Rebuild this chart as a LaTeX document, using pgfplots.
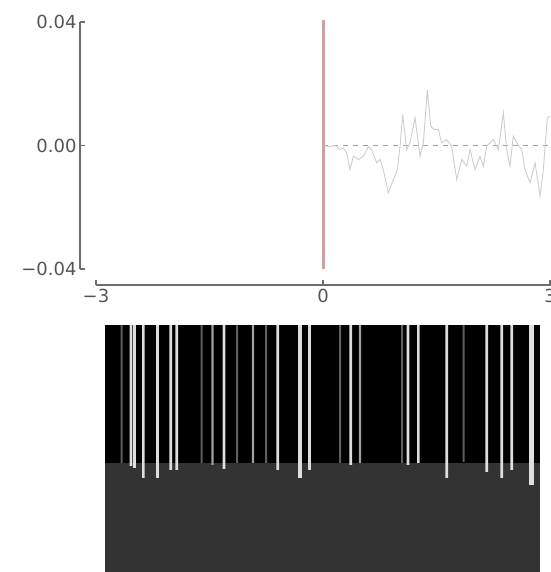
\documentclass[border=0pt]{standalone}
\usepackage{fontspec}
\setmainfont{DejaVu Sans}
\usepackage{pgfplots}
\pgfplotsset{compat=1.18}
\definecolor{spine}{RGB}{110,110,110}
\definecolor{ticktext}{RGB}{85,85,85}
\definecolor{redline}{RGB}{208,158,163}
\definecolor{noise}{RGB}{205,205,205}
\definecolor{dashc}{RGB}{160,160,160}
\definecolor{panelgray}{RGB}{51,51,51}
\definecolor{barbright}{RGB}{222,222,222}
\definecolor{barmid}{RGB}{160,160,160}
\definecolor{bardim}{RGB}{95,95,95}
\begin{document}
\begin{tikzpicture}
\path[use as bounding box] (0pt,0pt) rectangle (550pt,572pt);
\begin{axis}[
  overlay,
  at={(80pt,286.5pt)}, anchor=south west,
  scale only axis, width=470pt, height=263.5pt,
  xmin=-3.2115, xmax=3, ymin=-0.04534, ymax=0.04,
  axis x line*=bottom, axis y line*=left,
  axis line style={draw=none},
  scaled y ticks=false, scaled x ticks=false,
  tick align=inside, major tick length=5pt,
  tick style={spine, line width=1.4pt},
  xtick={-3,0,3}, xticklabels={−3,0,3},
  ytick={-0.04,0,0.04}, yticklabels={−0.04,0.00,0.04},
  ticklabel style={font=\fontsize{18}{20}\selectfont, text=ticktext},
  clip=false,
]
\draw[spine, line width=2pt] (axis cs:-3,-0.04534) -- (axis cs:3.1,-0.04534);
\draw[spine, line width=2pt] (axis cs:-3.2115,-0.04) -- (axis cs:-3.2115,0.04);
\addplot[dashc, line width=0.8pt, dash pattern=on 5pt off 5pt] coordinates {(0,0) (3,0)};
\addplot[noise, line width=0.9pt] coordinates {
(0.004,0) (0.093,-0.0004) (0.159,0) (0.225,-0.0013) (0.269,-0.0008) (0.313,-0.0024)
(0.357,-0.0078) (0.401,-0.0035) (0.467,-0.0045) (0.533,-0.0035) (0.599,-0.0004)
(0.643,-0.0013) (0.709,-0.0056) (0.753,-0.0045) (0.797,-0.0078) (0.863,-0.0153)
(0.930,-0.011) (0.982,-0.0078) (1.018,-0.0002) (1.053,0.010) (1.106,-0.0013)
(1.150,0.0009) (1.216,0.009) (1.282,-0.0035) (1.326,0.0009) (1.379,0.018)
(1.423,0.0063) (1.467,0.0052) (1.524,0.0052) (1.568,0.0009) (1.634,0.0019)
(1.700,-0.0002) (1.767,-0.011) (1.833,-0.0045) (1.899,-0.0067) (1.943,-0.0013)
(2.009,-0.0078) (2.075,-0.0035) (2.119,-0.0067) (2.163,-0.0002) (2.251,0.0019)
(2.317,-0.0013) (2.383,0.0106) (2.427,-0.0013) (2.471,-0.0067) (2.515,0.003)
(2.559,0.0009) (2.626,-0.0013) (2.670,-0.0078) (2.736,-0.0121) (2.802,-0.0056)
(2.868,-0.0164) (2.912,-0.0078) (2.965,0.009) (3.0,0.0095)};
\addplot[redline, line width=3pt] coordinates {(0,-0.04) (0,0.0405)};
\end{axis}
\begin{axis}[
  overlay,
  at={(105pt,0pt)}, anchor=south west,
  scale only axis, width=435pt, height=247pt,
  xmin=105, xmax=540, ymin=0, ymax=247, y dir=reverse,
  hide axis, clip=true,
]
\addplot[fill=black, draw=none] coordinates {(105,0) (540,0) (540,138) (105,138)} -- cycle;
\addplot[fill=panelgray, draw=none] coordinates {(105,138) (540,138) (540,247) (105,247)} -- cycle;
\addplot[ybar, bar shift=0pt, bar width=2pt, fill=bardim, draw=none] coordinates {
(121.7,138) (201.7,138) (237,138) (266,138) (340,138) (402,138) (463.5,137)};
\addplot[ybar, bar shift=0pt, bar width=2.2pt, fill=barmid, draw=none] coordinates {
(212.5,140) (253,138) (360,138)};
\addplot[ybar, bar shift=0pt, bar width=2.6pt, fill=barbright, draw=none] coordinates {
(131,141) (134.5,143) (143.3,153) (157.5,153) (170.7,145) (176.7,145) (224,144)
(277.7,145) (309.5,145) (350.7,140) (408,140) (418.3,138) (446.7,153) (486.7,147)
(501.7,153) (511.7,145)};
\addplot[ybar, bar shift=0pt, bar width=4pt, fill=barbright, draw=none] coordinates {(299.5,153)};
\addplot[ybar, bar shift=0pt, bar width=5pt, fill=barbright, draw=none] coordinates {(531.7,160)};
\end{axis}
\end{tikzpicture}
\end{document}
